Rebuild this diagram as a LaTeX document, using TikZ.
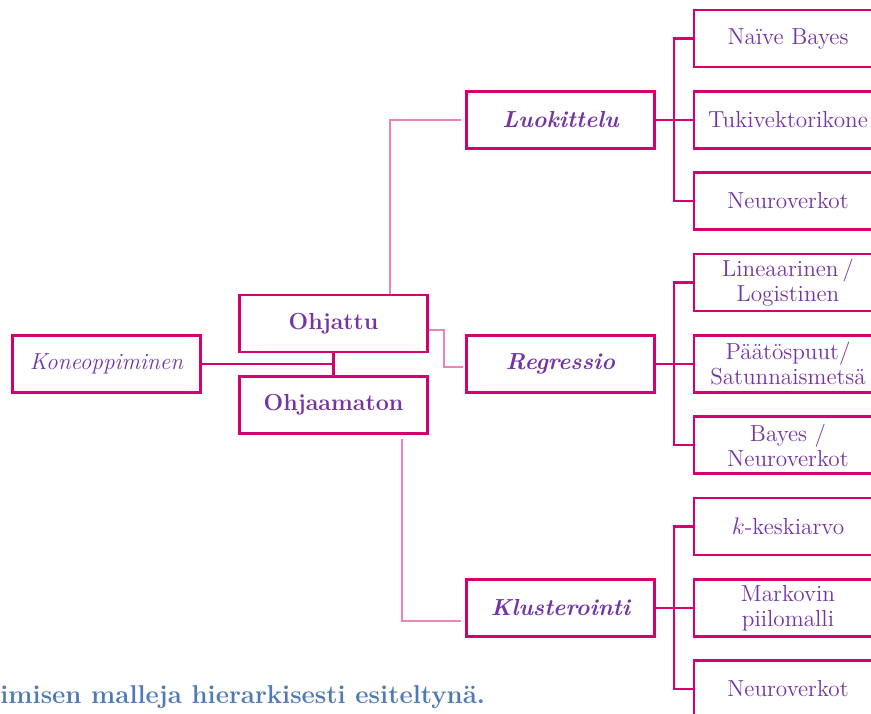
\documentclass[tikz,border=0pt]{standalone}
\usepackage{tikz}
\usetikzlibrary{shapes,arrows}
\definecolor{boxred}{HTML}{D4006F}
\definecolor{textpurple}{HTML}{7434A4}
\definecolor{lightpink}{HTML}{EC84B8}
\definecolor{capblue}{HTML}{4F7AB4}
\tikzstyle{boxstyle} = [draw=boxred, line width=1.1pt, minimum width=94pt, minimum height=28.5pt, inner sep=1pt, text=textpurple, align=center, font=\fontsize{11.6}{12.5}\selectfont]
\tikzstyle{busline} = [draw=boxred, line width=1.1pt]
\tikzstyle{softline} = [draw=lightpink, line width=1pt]

\begin{document}
\begin{tikzpicture}[x=0.5pt, y=-0.5pt, auto]
		\useasboundingbox (0,0) rectangle (871,713);
		\clip (0,0) rectangle (871,713);
		\node [boxstyle] (root) at (106.5,364) {\itshape Koneoppiminen};
		\node [boxstyle, right of=root, node distance=113.5pt, yshift=20.25pt] (m1) {\bfseries Ohjattu};
		\node [boxstyle, right of=root, node distance=113.5pt, yshift=-20.5pt] (m2) {\bfseries Ohjaamaton};
		
		\node [boxstyle, right of=root, node distance=227pt] (c2) {\bfseries\itshape Regressio};
		\node [boxstyle, above of=c2, node distance=122pt] (c1) {\bfseries\itshape Luokittelu};
		\node [boxstyle, below of=c2, node distance=122pt] (c3) {\bfseries\itshape Klusterointi};
		
		\node [boxstyle, right of=c1, node distance=113.75pt] (l2) {Tukivektorikone};
		\node [boxstyle, above of=l2, node distance=40.75pt] (l1) {Na\"ive Bayes};
		\node [boxstyle, below of=l2, node distance=40.5pt] (l3) {Neuroverkot};
		\node [boxstyle, right of=c2, node distance=113.75pt] (l5) {P\"a\"at\"ospuut/\\Satunnaismets\"a};
		\node [boxstyle, above of=l5, node distance=40.75pt] (l4) {Lineaarinen\,/\\Logistinen};
		\node [boxstyle, below of=l5, node distance=40.5pt] (l6) {Bayes /\\Neuroverkot};
		\node [boxstyle, right of=c3, node distance=113.75pt] (l8) {Markovin\\piilomalli};
		\node [boxstyle, above of=l8, node distance=40.75pt] (l7) {$k$-keskiarvo};
		\node [boxstyle, below of=l8, node distance=40.5pt] (l9) {Neuroverkot};
		
		\node [anchor=base west, inner sep=0, text=capblue, font=\fontsize{12.9}{14}\selectfont\bfseries] (cap) at (0,703) {imisen malleja hierarkisesti esiteltyn\"a.};
		
		\draw [busline] (root) -- (root -| m1);
		\draw [busline] (m1) -- (m2);
		\draw [softline] ([xshift=28.25pt]m1.north) |- ([xshift=-2pt]c1.west);
		\draw [softline] ([yshift=-3.25pt]m1.east) -- ++(7.75pt,0) |- ([xshift=-1pt, yshift=-1.5pt]c2.west);
		\draw [softline] ([xshift=34.25pt, yshift=-2pt]m2.south) |- ([xshift=-2pt, yshift=-6.5pt]c3.west);
		
		\draw [busline] (c1) -- (l2);
		\draw [busline] (l1.west) -- ++(-9.5pt,0) |- (l3.west);
		\draw [busline] (c2) -- (l5);
		\draw [busline] (l4.west) -- ++(-9.5pt,0) |- (l6.west);
		\draw [busline] (c3) -- (l8);
		\draw [busline] (l7.west) -- ++(-9.5pt,0) |- (l9.west);
		
		\end{tikzpicture}
\end{document}
